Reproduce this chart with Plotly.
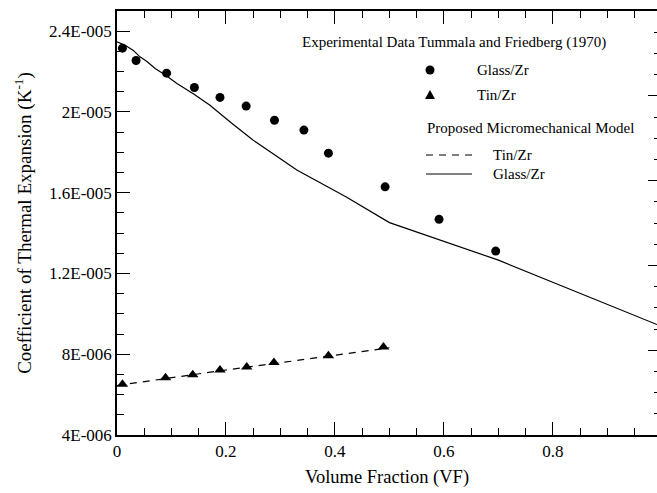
import plotly.graph_objects as go

# Experimental data (Tummala and Friedberg, 1970)
glass_vf = [0.01, 0.035, 0.091, 0.142, 0.189, 0.237, 0.289, 0.343, 0.388, 0.492, 0.591, 0.695]
glass_cte = [2.316e-5, 2.255e-5, 2.192e-5, 2.121e-5, 2.072e-5, 2.029e-5, 1.959e-5, 1.910e-5,
             1.796e-5, 1.629e-5, 1.468e-5, 1.311e-5]
tin_vf = [0.01, 0.089, 0.139, 0.189, 0.238, 0.288, 0.388, 0.489]
tin_cte = [6.51e-6, 6.83e-6, 6.98e-6, 7.22e-6, 7.37e-6, 7.59e-6, 7.92e-6, 8.36e-6]

# Proposed micromechanical model
model_tin_vf = [0.0, 0.1, 0.2, 0.3, 0.4, 0.5]
model_tin_cte = [6.45e-6, 6.85e-6, 7.22e-6, 7.58e-6, 7.95e-6, 8.32e-6]
model_glass_vf = [0.0, 0.015, 0.03, 0.042, 0.055, 0.07, 0.09, 0.11, 0.14, 0.17, 0.21, 0.25,
                  0.33, 0.42, 0.5, 0.7, 0.991]
model_glass_cte = [2.347e-5, 2.33e-5, 2.305e-5, 2.273e-5, 2.25e-5, 2.215e-5, 2.18e-5, 2.141e-5,
                   2.09e-5, 2.034e-5, 1.945e-5, 1.86e-5, 1.712e-5, 1.58e-5, 1.452e-5,
                   1.266e-5, 0.947e-5]

x_ticks = [0, 0.2, 0.4, 0.6, 0.8]
x_ticklabels = ["0", "0.2", "0.4", "0.6", "0.8"]
y_ticks = [4e-6, 8e-6, 1.2e-5, 1.6e-5, 2e-5, 2.4e-5]
y_ticklabels = ["4E-006", "8E-006", "1.2E-005", "1.6E-005", "2E-005", "2.4E-005"]

X_RANGE = [0, 0.991]
Y_RANGE = [4e-6, 2.5e-5]
Y2_RANGE = [0, 5]   # unlabeled right-hand axis with its own divisions

FONT = "Liberation Serif"

fig = go.Figure()
fig.add_trace(go.Scatter(x=model_glass_vf, y=model_glass_cte, mode="lines",
                         line=dict(color="black", width=1.2), showlegend=False))
fig.add_trace(go.Scatter(x=model_tin_vf, y=model_tin_cte, mode="lines",
                         line=dict(color="black", width=1.2, dash="7px,6px"), showlegend=False))
fig.add_trace(go.Scatter(x=glass_vf, y=glass_cte, mode="markers",
                         marker=dict(symbol="circle", size=9, color="black"), showlegend=False))
fig.add_trace(go.Scatter(x=tin_vf, y=tin_cte, mode="markers",
                         marker=dict(symbol="triangle-up", size=10, color="black"), showlegend=False))

tick_common = dict(
    ticks="inside", ticklen=13, tickwidth=1.2, tickcolor="black",
    showgrid=False, zeroline=False,
)

fig.update_layout(
    xaxis=dict(
        range=X_RANGE, tickvals=x_ticks, ticktext=x_ticklabels,
        showline=True, linecolor="black", linewidth=1.5, mirror=True,
        minor=dict(ticks="inside", ticklen=7, dtick=0.05, tick0=0, tickcolor="black",
                   tickwidth=1.2, showgrid=False),
        tickfont=dict(family=FONT, size=17, color="black"),
        title=dict(text="Volume Fraction (VF)", font=dict(family=FONT, size=18.5, color="black"),
                   standoff=10),
        **tick_common,
    ),
    yaxis=dict(
        range=Y_RANGE, tickvals=y_ticks, ticktext=y_ticklabels,
        showline=True, linecolor="black", linewidth=1.5, mirror=False,
        minor=dict(ticks="inside", ticklen=7, dtick=1e-6, tick0=0, tickcolor="black",
                   tickwidth=1.2, showgrid=False),
        tickfont=dict(family=FONT, size=17, color="black"),
        title=dict(text="Coefficient of Thermal Expansion (K<sup>-1</sup>)",
                   font=dict(family=FONT, size=19, color="black"), standoff=12),
        **tick_common,
    ),
    # mirrored tick axis on top
    xaxis2=dict(
        overlaying="x", side="top", matches="x", range=X_RANGE, tickvals=x_ticks,
        showticklabels=False, showline=False,
        minor=dict(ticks="inside", ticklen=7, dtick=0.05, tick0=0, tickcolor="black",
                   tickwidth=1.2, showgrid=False),
        **tick_common,
    ),
    # right-hand tick axis (edge of the frame)
    yaxis2=dict(
        overlaying="y", side="right", range=Y2_RANGE, dtick=1, tick0=0,
        showticklabels=False, showline=False,
        ticks="inside", ticklen=9, tickwidth=1.2, tickcolor="black",
        showgrid=False, zeroline=False,
        minor=dict(ticks="inside", ticklen=3, dtick=0.25, tick0=0, tickcolor="black",
                   tickwidth=1.2, showgrid=False),
    ),
)
# invisible trace to activate the extra tick axes
fig.add_trace(go.Scatter(x=[X_RANGE[0]], y=[Y2_RANGE[0]], xaxis="x2", yaxis="y2",
                         mode="markers", marker=dict(opacity=0), showlegend=False,
                         hoverinfo="skip"))

# Legend drawn manually (paper coordinates)
PL, PR, PT, PB = 117, 657, 11, 435

def px_x(px):
    return (px - PL) / float(PR - PL)

def px_y(py):
    return (PB - py) / float(PB - PT)

legend_font = dict(family=FONT, size=15, color="black")
annotations = [
    dict(text="Experimental Data Tummala and Friedberg (1970)", x=px_x(302), y=px_y(43)),
    dict(text="Glass/Zr", x=px_x(477), y=px_y(70)),
    dict(text="Tin/Zr", x=px_x(477), y=px_y(95)),
    dict(text="Proposed Micromechanical Model", x=px_x(427), y=px_y(128)),
    dict(text="Tin/Zr", x=px_x(493), y=px_y(155)),
    dict(text="Glass/Zr", x=px_x(493), y=px_y(174)),
]
for a in annotations:
    a.update(xref="paper", yref="paper", xanchor="left", yanchor="middle",
             showarrow=False, font=legend_font, xshift=-2)

shapes = [
    dict(type="circle", xref="paper", yref="paper", xsizemode="pixel", ysizemode="pixel",
         xanchor=px_x(430), yanchor=px_y(70), x0=-4.5, x1=4.5, y0=-4.5, y1=4.5,
         fillcolor="black", line=dict(color="black", width=0)),
    dict(type="path", xref="paper", yref="paper", xsizemode="pixel", ysizemode="pixel",
         xanchor=px_x(430), yanchor=px_y(95), path="M -5,-4 L 5,-4 L 0,5 Z",
         fillcolor="black", line=dict(color="black", width=0)),
    dict(type="line", xref="paper", yref="paper", x0=px_x(426), x1=px_x(472),
         y0=px_y(155), y1=px_y(155), line=dict(color="black", width=1.2, dash="7px,6px")),
    dict(type="line", xref="paper", yref="paper", x0=px_x(426), x1=px_x(472),
         y0=px_y(174), y1=px_y(174), line=dict(color="black", width=1.2)),
]

fig.update_layout(
    width=657, height=493,
    margin=dict(l=PL, r=657 - PR, t=PT, b=493 - PB),
    paper_bgcolor="white", plot_bgcolor="white",
    font=dict(family=FONT, color="black"),
    annotations=annotations, shapes=shapes,
    showlegend=False,
)

fig.write_html("out.html")
